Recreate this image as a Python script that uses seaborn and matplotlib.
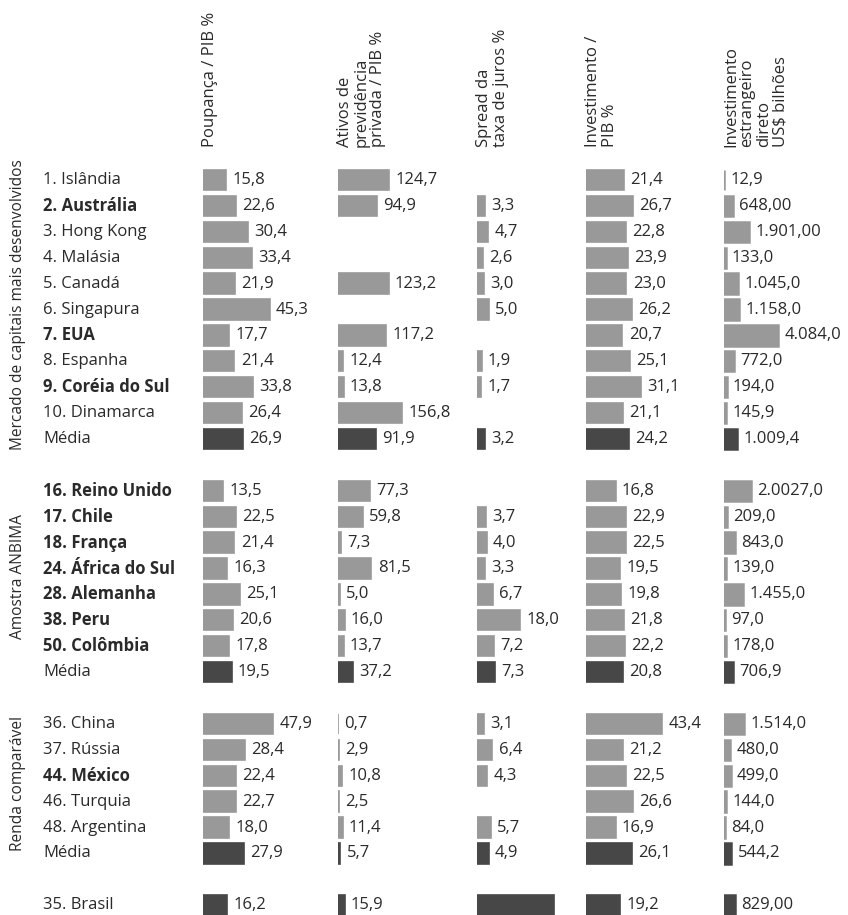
import numpy as np
import pandas as pd
import matplotlib
matplotlib.use("Agg")
import matplotlib.pyplot as plt
import matplotlib.transforms as mtransforms
import seaborn as sns

# ---------------- data ----------------
paises = [
    "1. Islândia", "2. Austrália", "3. Hong Kong", "4. Malásia", "5. Canadá",
    "6. Singapura", "7. EUA", "8. Espanha", "9. Coréia do Sul", "10. Dinamarca", "Média",
    "16. Reino Unido", "17. Chile", "18. França", "24. África do Sul", "28. Alemanha",
    "38. Peru", "50. Colômbia", "Média",
    "36. China", "37. Rússia", "44. México", "46. Turquia", "48. Argentina", "Média",
    "35. Brasil",
]
grupos = (["Mercado de capitais mais desenvolvidos"] * 11 + ["Amostra ANBIMA"] * 8
          + ["Renda comparável"] * 6 + [""])
negrito = [False, True, False, False, False, False, True, False, True, False, False,
           True, True, True, True, True, True, True, False,
           False, False, True, False, False, False,
           False]

poupanca = [15.8, 22.6, 30.4, 33.4, 21.9, 45.3, 17.7, 21.4, 33.8, 26.4, 26.9,
            13.5, 22.5, 21.4, 16.3, 25.1, 20.6, 17.8, 19.5,
            47.9, 28.4, 22.4, 22.7, 18.0, 27.9,
            16.2]
previdencia = [124.7, 94.9, np.nan, np.nan, 123.2, np.nan, 117.2, 12.4, 13.8, 156.8, 91.9,
               77.3, 59.8, 7.3, 81.5, 5.0, 16.0, 13.7, 37.2,
               0.7, 2.9, 10.8, 2.5, 11.4, 5.7,
               15.9]
spread = [np.nan, 3.3, 4.7, 2.6, 3.0, 5.0, np.nan, 1.9, 1.7, np.nan, 3.2,
          np.nan, 3.7, 4.0, 3.3, 6.7, 18.0, 7.2, 7.3,
          3.1, 6.4, 4.3, np.nan, 5.7, 4.9,
          32.0]
investimento = [21.4, 26.7, 22.8, 23.9, 23.0, 26.2, 20.7, 25.1, 31.1, 21.1, 24.2,
                16.8, 22.9, 22.5, 19.5, 19.8, 21.8, 22.2, 20.8,
                43.4, 21.2, 22.5, 26.6, 16.9, 26.1,
                19.2]
ied = [12.9, 648.0, 1901.0, 133.0, 1045.0, 1158.0, 4084.0, 772.0, 194.0, 145.9, 1009.4,
       2002.7, 209.0, 843.0, 139.0, 1455.0, 97.0, 178.0, 706.9,
       1514.0, 480.0, 499.0, 144.0, 84.0, 544.2,
       829.0]
ied_rotulos = ["12,9", "648,00", "1.901,00", "133,0", "1.045,0", "1.158,0", "4.084,0",
               "772,0", "194,0", "145,9", "1.009,4",
               "2.0027,0", "209,0", "843,0", "139,0", "1.455,0", "97,0", "178,0", "706,9",
               "1.514,0", "480,0", "499,0", "144,0", "84,0", "544,2",
               "829,00"]

titulos = ["Poupança / PIB %",
           "Ativos de\nprevidência\nprivada / PIB %",
           "Spread da\ntaxa de juros %",
           "Investimento /\nPIB %",
           "Investimento\nestrangeiro\ndireto\nUS$ bilhões"]


def fmt(v):
    return "" if np.isnan(v) else f"{v:.1f}".replace(".", ",")


rot_spread = [fmt(v) for v in spread]
rot_spread[-1] = ""  # Brasil: bar shown without a number

colunas = [
    (poupanca, [fmt(v) for v in poupanca]),
    (previdencia, [fmt(v) for v in previdencia]),
    (spread, rot_spread),
    (investimento, [fmt(v) for v in investimento]),
    (ied, ied_rotulos),
]

# ---------------- layout ----------------
W, H = 848, 915
sns.set_style("white")
plt.rcParams["font.family"] = ["Open Sans", "DejaVu Sans"]
TXT = "#2a2a2a"
CLARO, ESCURO = "#999999", "#474747"

# one blank row between consecutive groups
ordem_grupo = pd.Series(grupos).ne(pd.Series(grupos).shift()).cumsum() - 1
pos = np.arange(len(paises)) + ordem_grupo.values
tipo = ["média" if (p == "Média" or "Brasil" in p) else "país" for p in paises]

row0_px, step_px = 180.0, 25.9
top_px, bot_px = 165.0, 915.0
y_top = (top_px - row0_px) / step_px
y_bot = (bot_px - row0_px) / step_px

# bar start (px) and pixels per unit for each column
col_x0 = [203, 338, 477, 586, 724]
col_ppu = [1.47, 0.41, 2.40, 1.76, 0.0133]
col_lw = [1.2, 1.2, 1.2, 1.2, 1.8]
col_w = 125

fig = plt.figure(figsize=(W / 100, H / 100), dpi=100)
axes = []
for (vals, rots), x0, ppu, lw in zip(colunas, col_x0, col_ppu, col_lw):
    ax = fig.add_axes([x0 / W, 1 - bot_px / H, col_w / W, (bot_px - top_px) / H])
    df = pd.DataFrame({"valor": vals, "pos": pos, "tipo": tipo, "rot": rots}).dropna(subset=["valor"])
    sns.barplot(data=df, x="valor", y="pos", hue="tipo", orient="y", native_scale=True,
                palette={"país": CLARO, "média": ESCURO}, dodge=False, legend=False,
                width=0.78, saturation=1, linewidth=lw, ax=ax)
    for patch in ax.patches:
        patch.set_edgecolor(patch.get_facecolor())
    for v, p, r in zip(df["valor"], df["pos"], df["rot"]):
        if r:
            ax.annotate(r, xy=(v, p), xytext=(4.5, 0), textcoords="offset points",
                        ha="left", va="center", fontsize=12, color=TXT, annotation_clip=False)
    ax.set_xlim(0, col_w / ppu)
    ax.set_ylim(y_bot, y_top)
    ax.axis("off")
    axes.append(ax)

# column headings
for titulo, x0 in zip(titulos, col_x0):
    fig.text((x0 - 1) / W, 1 - 147 / H, titulo, rotation=90, ha="left", va="bottom",
             multialignment="left", fontsize=12, color=TXT, linespacing=1.05)

# row labels
tr = mtransforms.blended_transform_factory(fig.transFigure, axes[0].transData)
for nome, p, b in zip(paises, pos, negrito):
    fig.text(43 / W, p, nome, transform=tr, ha="left", va="center", fontsize=12,
             fontweight="bold" if b else "normal", color=TXT)

# group labels
for g in pd.unique(pd.Series(grupos)):
    if not g:
        continue
    ps = pos[np.array(grupos) == g]
    fig.text(18 / W, (ps.min() + ps.max()) / 2 - 0.2, g, transform=tr, rotation=90,
             ha="center", va="center", fontsize=11.2, color=TXT)

fig.savefig("out.png", dpi=100)
